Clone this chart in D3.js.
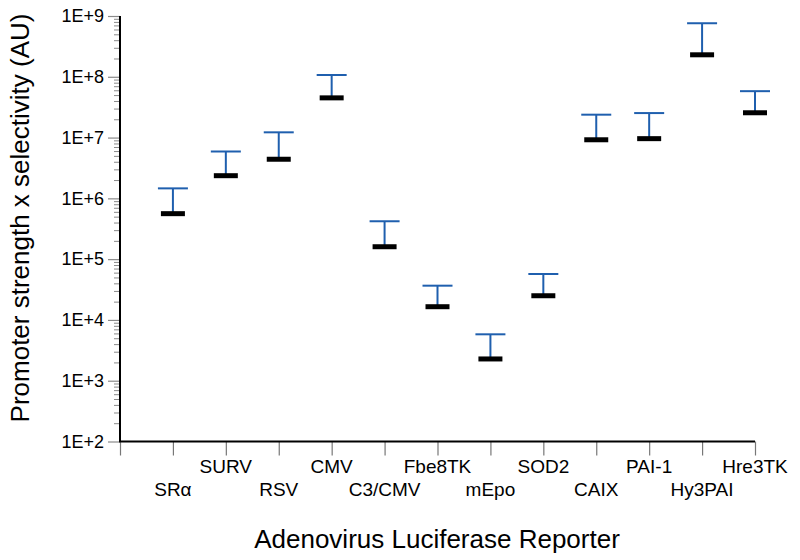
<!DOCTYPE html>
<html>
<head>
<meta charset="utf-8">
<script src="https://cdn.jsdelivr.net/npm/d3@7"></script>
<style>
  html, body { margin: 0; padding: 0; background: #fff; }
  svg { display: block; font-family: "Liberation Sans", Arial, sans-serif; }
</style>
</head>
<body>
<svg id="chart" width="800" height="560"></svg>
<script>
// ---- Data ----
const categories = ["SR\u03B1", "SURV", "RSV", "CMV", "C3/CMV", "Fbe8TK", "mEpo", "SOD2", "CAIX", "PAI-1", "Hy3PAI", "Hre3TK"];
const meanValues = [5.6e5, 2.36e6, 4.4e6, 4.5e7, 1.6e5, 1.65e4, 2.28e3, 2.5e4, 9.2e6, 9.6e6, 2.3e8, 2.56e7];
const upperValues = [1.46e6, 5.9e6, 1.22e7, 1.07e8, 4.2e5, 3.66e4, 5.8e3, 5.7e4, 2.38e7, 2.53e7, 7.6e8, 5.8e7];
const yTickValues = [1e2, 1e3, 1e4, 1e5, 1e6, 1e7, 1e8, 1e9];
const yTickLabels = ["1E+2", "1E+3", "1E+4", "1E+5", "1E+6", "1E+7", "1E+8", "1E+9"];
const xTitle = "Adenovirus Luciferase Reporter";
const yTitle = "Promoter strength x selectivity (AU)";

// ---- Layout ----
const svg = d3.select("#chart");
const mLeft = 120, mRight = 755, mTop = 16, mBottom = 441.5;
const blue = "#1f5fae";

const x = d3.scaleLinear().domain([0, categories.length]).range([mLeft, mRight]);
const y = d3.scaleLog().domain([1e2, 1e9]).range([mBottom, mTop]);

// minor ticks
const minorVals = [];
for (let e = 2; e < 9; e++) for (let m = 2; m <= 9; m++) minorVals.push(m * Math.pow(10, e));

const gMinor = svg.append("g").attr("transform", `translate(${mLeft},0)`)
  .call(d3.axisLeft(y).tickValues(minorVals).tickSize(6).tickFormat(""));
gMinor.select(".domain").remove();
gMinor.selectAll(".tick line").attr("stroke", "#8a8a8a").attr("stroke-width", 1);

const gY = svg.append("g").attr("transform", `translate(${mLeft},0)`)
  .call(d3.axisLeft(y).tickValues(yTickValues).tickSize(12).tickPadding(4)
    .tickFormat((d, i) => yTickLabels[i]));
gY.select(".domain").remove();
gY.selectAll(".tick line").attr("stroke", "#8a8a8a").attr("stroke-width", 1.2);
gY.selectAll(".tick text").attr("font-size", 18).attr("fill", "#000")
  .attr("font-family", "Liberation Sans, Arial, sans-serif");

// x ticks (category positions)
const xTickVals = d3.range(0, categories.length + 1);
const gX = svg.append("g").attr("transform", `translate(0,${mBottom})`)
  .call(d3.axisBottom(x).tickValues(xTickVals).tickSize(14).tickFormat(""));
gX.select(".domain").remove();
gX.selectAll(".tick line").attr("stroke", "#777").attr("stroke-width", 1.2);

// axis lines
svg.append("line").attr("x1", mLeft).attr("x2", mLeft).attr("y1", mTop).attr("y2", mBottom)
  .attr("stroke", "#000").attr("stroke-width", 2);
svg.append("line").attr("x1", mLeft - 1).attr("x2", mRight).attr("y1", mBottom).attr("y2", mBottom)
  .attr("stroke", "#000").attr("stroke-width", 2.2);

// category labels, staggered
svg.append("g").selectAll("text").data(categories).join("text")
  .attr("x", (d, i) => x(i + 1))
  .attr("y", (d, i) => i % 2 === 0 ? 496 : 473)
  .attr("text-anchor", "middle")
  .attr("font-size", 19)
  .attr("fill", "#000")
  .text(d => d);

// error bars
const bars = svg.append("g");
categories.forEach((c, i) => {
  const cx = x(i + 1);
  bars.append("line").attr("x1", cx).attr("x2", cx)
    .attr("y1", y(meanValues[i])).attr("y2", y(upperValues[i]))
    .attr("stroke", blue).attr("stroke-width", 2);
  bars.append("line").attr("x1", cx - 15).attr("x2", cx + 15)
    .attr("y1", y(upperValues[i])).attr("y2", y(upperValues[i]))
    .attr("stroke", blue).attr("stroke-width", 2);
  bars.append("line").attr("x1", cx - 12).attr("x2", cx + 12)
    .attr("y1", y(meanValues[i])).attr("y2", y(meanValues[i]))
    .attr("stroke", "#000").attr("stroke-width", 5);
});

// titles
svg.append("text").attr("x", 437).attr("y", 548).attr("text-anchor", "middle")
  .attr("font-size", 26).attr("fill", "#000").text(xTitle);
svg.append("text").attr("transform", "translate(29,218) rotate(-90)")
  .attr("text-anchor", "middle").attr("font-size", 26).attr("fill", "#000").text(yTitle);
</script>
</body>
</html>
